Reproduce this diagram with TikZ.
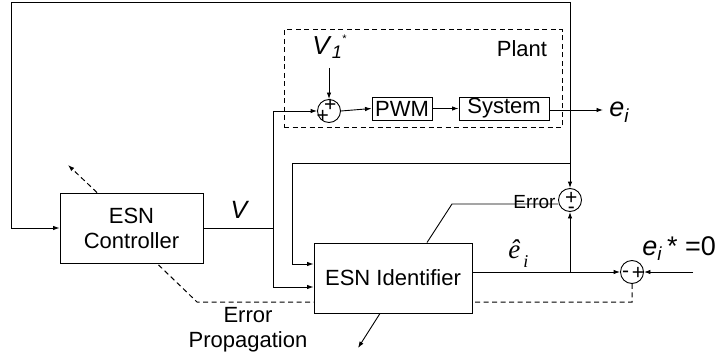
\documentclass[tikz,border=0pt]{standalone}
\usepackage{fontspec}
\setmainfont{Liberation Sans}
\newfontfamily\serifit{Liberation Serif}
\usetikzlibrary{arrows.meta}
\begin{document}
\begin{tikzpicture}[x=1pt,y=-1pt,line width=0.9pt,
  >={Latex[length=6.5pt,width=4.5pt]},
  box/.style={draw,fill=white,inner sep=0pt,align=center,font=\fontsize{22}{25}\selectfont},
  sumc/.style={draw,fill=white,circle,minimum size=23pt,inner sep=0pt},
  sgn/.style={inner sep=0pt,anchor=base,font=\fontsize{21}{21}\selectfont},
  lbl/.style={inner sep=0pt,font=\fontsize{22}{25}\selectfont},
  dsh/.style={line width=1pt,dash pattern=on 5pt off 3.5pt}]
\useasboundingbox (0,0) rectangle (719,358);

% plant frame
\node[draw,dsh,minimum width=278pt,minimum height=98pt,inner sep=0pt] (plant) at (423,79) {};
\node[lbl,anchor=base] (plantlbl) at (522,57) {Plant};

% coordinates
\coordinate (top) at (570,2);
\coordinate (tl) at (11,2);
\coordinate (jV) at (273,228);
\coordinate (jF) at (570,163);
\coordinate (jF2) at (292,163);
\coordinate (jE) at (570,272);
\coordinate (eout) at (603,110);
\coordinate (vin) at (329,68);
\coordinate (estar) at (693,272);
\coordinate (dA) at (632,302);
\coordinate (dB) at (197,302);
\coordinate (ctrlup) at (68,165);
\coordinate (idown) at (358,348);
\coordinate (ibend) at (452,204);

% dashed error propagation (behind identifier)
\node[sumc] (s2) at (632,272) {};
\node[box,minimum width=143pt,minimum height=70pt] (ctrl) at (131.5,228) {ESN\\Controller};
\draw[dsh] (s2.south) -- (dA) -- (dB) -- (ctrl.south east -| 157,263);
\draw[dsh,->] (ctrl.north west -| 97,193) -- (ctrlup);

\node[box,minimum width=158pt,minimum height=70pt] (ident) at (393,278) {ESN Identifier};

% plant blocks
\node[sumc] (s1) at (329,111) {};
\node[box,minimum width=60pt,minimum height=23pt] (pwm) at (402,108.5) {PWM};
\node[box,minimum width=90pt,minimum height=23pt] (sys) at (504,108.5) {System};
\node[sumc] (sE) at (570,200) {};

% signs
\node[sgn] (s1sg) at (326.5,112) {\raisebox{-10.5pt}{+}\hspace{-5pt}+};
\node[sgn] (sEsg) at (570,204) {+\hspace{-9.6pt}\raisebox{-9.5pt}{-}\hspace{2.6pt}};
\node[sgn] (s2m) at (625.5,277.8) {-};
\node[sgn] (s2p) at (638,279) {+};

% connectors
\draw[->] (ctrl.east) -- (jV) |- (s1.west);
\draw[->] (jV) |- (ident.west |- 0,287);
\draw[->] (jF) -- (jF2) |- (ident.west |- 0,264);
\draw[->] (top) -- (sE.north);
\draw[->] (top) -- (tl) |- (ctrl.west);
\draw[->] (vin) -- (s1.north);
\draw[->] (s1.east) -- (pwm.west);
\draw[->] (pwm.east) -- (sys.west);
\draw[->] (sys.east |- eout) -- (eout);
\draw[->] (ident.east |- jE) -- (s2.west);
\draw[->] (jE) -- (sE.south);
\draw[->] (estar) -- (s2.east);
\draw[->] (ident.south -| 380,313) -- (idown);
\draw (ident.north -| 427,243) -- (ibend) -- (sE.west |- ibend);

% labels
\node[lbl,anchor=base] (vlbl) at (240,218) {\fontsize{25}{25}\selectfont\textit{V}};
\node[lbl,anchor=base west] (v1lbl) at (312,55) {\fontsize{26}{26}\selectfont\textit{V}\textsubscript{\textit{1}}\raisebox{12pt}{\fontsize{11}{11}\selectfont *}};
\node[lbl,anchor=base west] (eilbl) at (609,117) {\fontsize{27}{27}\selectfont\textit{e}\textsubscript{\textit{i}}};
\node[lbl,anchor=base east] (errlbl) at (556,208) {\fontsize{19}{19}\selectfont Error};
\node[lbl,anchor=base] (ep1) at (248,322) {Error};
\node[lbl,anchor=base] (ep2) at (248,347) {Propagation};
\node[lbl,anchor=base west] (ehat) at (508,258) {\fontsize{27}{27}\selectfont\serifit\itshape ê\raisebox{-9pt}{\fontsize{18}{18}\selectfont\,i}};
\node[lbl,anchor=base west] (estarlbl) at (642,255) {\fontsize{27}{27}\selectfont\textit{e}\textsubscript{\textit{i}}\,* =0};
\end{tikzpicture}
\end{document}
